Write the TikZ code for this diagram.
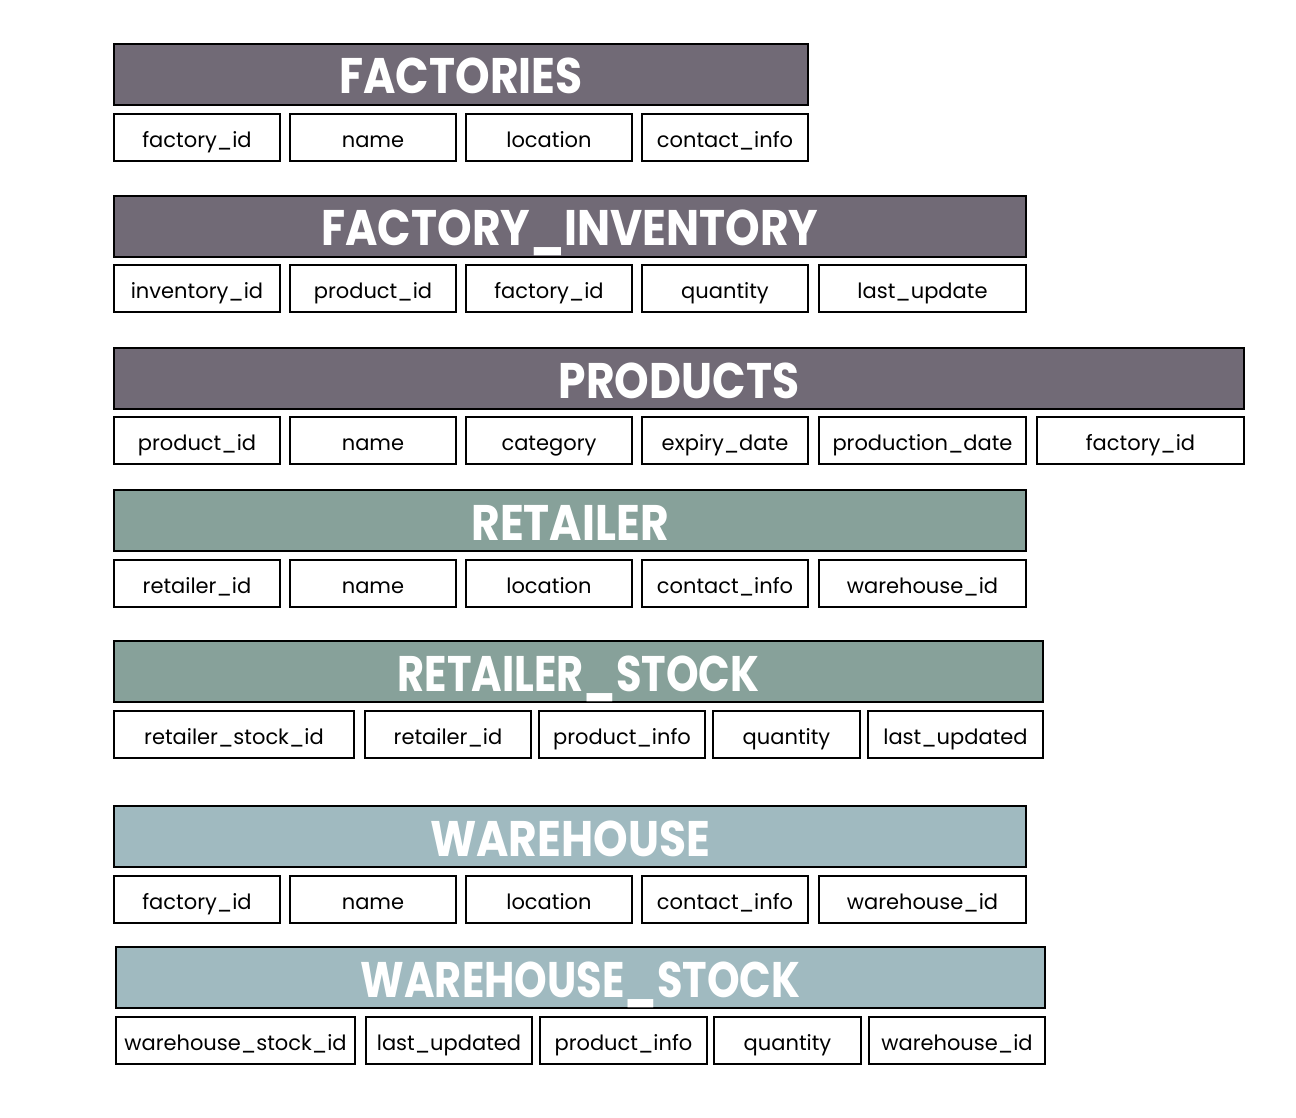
\documentclass[tikz,border=0pt]{standalone}
\usepackage{fontspec}
\setmainfont{Poppins}
\newfontfamily\headfont{Poppins}[FakeStretch=0.88]
\newfontfamily\narrowheadfont{Poppins}[FakeStretch=0.83]

\definecolor{factgray}{RGB}{113,106,118}
\definecolor{retgreen}{RGB}{135,161,154}
\definecolor{wareblue}{RGB}{160,186,192}

\tikzset{
  tblhead/.style={draw=black, line width=2pt, anchor=north west, inner sep=0pt,
    minimum height=61pt, text=white, text height=39pt, text depth=0pt,
    font=\headfont\bfseries\fontsize{50}{50}\selectfont},
  narrowhead/.style={tblhead, font=\narrowheadfont\bfseries\fontsize{50}{50}\selectfont},
  tblfield/.style={draw=black, line width=2pt, anchor=north west, inner sep=0pt,
    minimum height=47pt, text height=21pt, text depth=1pt,
    font=\fontsize{21}{21}\selectfont}
}

\begin{document}
\begin{tikzpicture}[x=1pt,y=-1pt]
\useasboundingbox (0,0) rectangle (1296,1118);

% factories
\node[tblhead, fill=factgray, minimum width=694pt] (factories) at (113,43) {FACTORIES};
\foreach \x/\w/\t [count=\i] in {113/166/factory\_id, 289/166/name, 465/166/location, 641/166/contact\_info}
  \node[tblfield, minimum width=\w pt] (factories-\i) at (\x,113) {\t};

% factory inventory
\node[tblhead, fill=factgray, minimum width=912pt] (inventory) at (113,195) {FACTORY\_INVENTORY};
\foreach \x/\w/\t [count=\i] in {113/166/inventory\_id, 289/166/product\_id, 465/166/factory\_id, 641/166/quantity, 818/207/last\_update}
  \node[tblfield, minimum width=\w pt] (inventory-\i) at (\x,264) {\t};

% products
\node[tblhead, fill=factgray, minimum width=1130pt] (products) at (113,347) {PRODUCTS};
\foreach \x/\w/\t [count=\i] in {113/166/product\_id, 289/166/name, 465/166/category, 641/166/expiry\_date, 818/207/production\_date, 1036/207/factory\_id}
  \node[tblfield, minimum width=\w pt] (products-\i) at (\x,416) {\t};

% retailer
\node[tblhead, fill=retgreen, minimum width=912pt] (retailer) at (113,489) {RETAILER};
\foreach \x/\w/\t [count=\i] in {113/166/retailer\_id, 289/166/name, 465/166/location, 641/166/contact\_info, 818/207/warehouse\_id}
  \node[tblfield, minimum width=\w pt] (retailer-\i) at (\x,559) {\t};

% retailer stock
\node[narrowhead, fill=retgreen, minimum width=929pt] (retstock) at (113,640) {RETAILER\_STOCK};
\foreach \x/\w/\t [count=\i] in {113/240/retailer\_stock\_id, 364/166/retailer\_id, 538/166/product\_info, 712/147/quantity, 867/175/last\_updated}
  \node[tblfield, minimum width=\w pt] (retstock-\i) at (\x,710) {\t};

% warehouse
\node[tblhead, fill=wareblue, minimum width=912pt] (warehouse) at (113,805) {WAREHOUSE};
\foreach \x/\w/\t [count=\i] in {113/166/factory\_id, 289/166/name, 465/166/location, 641/166/contact\_info, 818/207/warehouse\_id}
  \node[tblfield, minimum width=\w pt] (warehouse-\i) at (\x,875) {\t};

% warehouse stock
\node[narrowhead, fill=wareblue, minimum width=929pt] (warestock) at (115,946) {WAREHOUSE\_STOCK};
\foreach \x/\w/\t [count=\i] in {115/239/warehouse\_stock\_id, 365/166/last\_updated, 539/167/product\_info, 713/147/quantity, 868/176/warehouse\_id}
  \node[tblfield, minimum width=\w pt] (warestock-\i) at (\x,1016) {\t};
\end{tikzpicture}
\end{document}
